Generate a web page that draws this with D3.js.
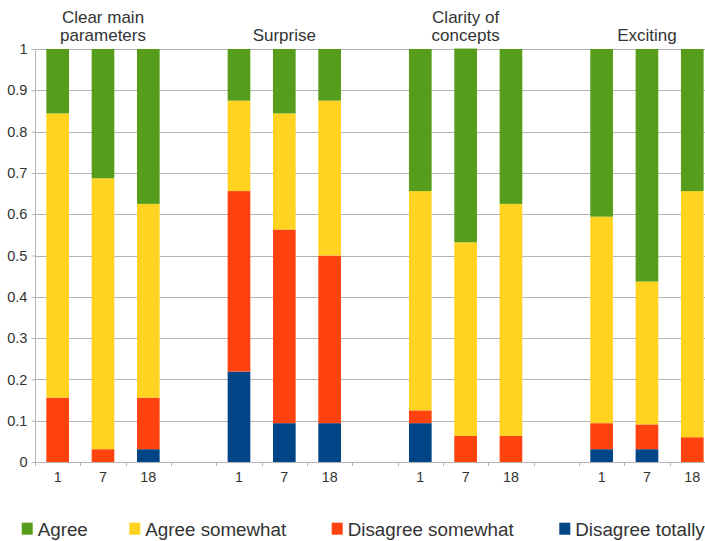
<!DOCTYPE html>
<html>
<head>
<meta charset="utf-8">
<script src="https://cdn.jsdelivr.net/npm/d3@7"></script>
<style>
  html, body { margin: 0; padding: 0; background: #fff; overflow: hidden; }
  svg { display: block; font-family: "Liberation Sans", Arial, sans-serif; }
</style>
</head>
<body>
<svg id="chart" width="705" height="541"></svg>
<script>
// Survey questions (one group of bars each) and their titles split into lines
const questions = ["Clear main parameters", "Surprise", "Clarity of concepts", "Exciting"];
const questionTitleLines = [["Clear main", "parameters"], ["Surprise"], ["Clarity of", "concepts"], ["Exciting"]];
// Measurement points within each question
const waves = ["1", "7", "18"];

// Answer shares per bar, question-major order (question × wave)
const disagreeTotally  = [0,     0,     0.031, 0.219, 0.094, 0.094, 0.094, 0,     0,     0.031, 0.031, 0];
const disagreeSomewhat = [0.156, 0.031, 0.125, 0.437, 0.469, 0.406, 0.031, 0.063, 0.063, 0.063, 0.060, 0.060];
const agreeSomewhat    = [0.688, 0.656, 0.469, 0.219, 0.281, 0.375, 0.531, 0.469, 0.562, 0.500, 0.346, 0.596];
const agree            = [0.156, 0.313, 0.375, 0.125, 0.156, 0.125, 0.344, 0.469, 0.375, 0.406, 0.563, 0.344];

// Series, bottom of stack first
const seriesKeys = ["Disagree totally", "Disagree somewhat", "Agree somewhat", "Agree"];
const seriesValues = [disagreeTotally, disagreeSomewhat, agreeSomewhat, agree];
const seriesColors = ["#004586", "#ff420e", "#ffd320", "#579d1c"];
// Legend order
const legendKeys = ["Agree", "Agree somewhat", "Disagree somewhat", "Disagree totally"];

const yTicks = [0, 0.1, 0.2, 0.3, 0.4, 0.5, 0.6, 0.7, 0.8, 0.9, 1];
const yTickLabels = ["0", "0.1", "0.2", "0.3", "0.4", "0.5", "0.6", "0.7", "0.8", "0.9", "1"];

// Build one row per bar, with an empty spacer slot between question groups
const slots = [];
const rows = [];
questions.forEach((q, qi) => {
  waves.forEach((w, wi) => {
    const idx = qi * waves.length + wi;
    const row = { slot: q + "|" + w, wave: w, question: q };
    seriesKeys.forEach((k, si) => { row[k] = seriesValues[si][idx]; });
    rows.push(row);
    slots.push(row.slot);
  });
  if (qi < questions.length - 1) slots.push("gap" + qi);
});

const svg = d3.select("#chart");
const plotLeft = 35, plotTop = 49, plotBottom = 462;
const slotStep = 45.33;

const x = d3.scaleBand()
  .domain(slots)
  .range([plotLeft, plotLeft + slotStep * slots.length])
  .paddingInner(0).paddingOuter(0);

const y = d3.scaleLinear().domain([0, 1]).range([plotBottom, plotTop]);

const gridColor = "#b3b3b3";
const textColor = "#333333";

// Horizontal grid lines
svg.append("g")
  .selectAll("line")
  .data(yTicks)
  .join("line")
  .attr("x1", plotLeft)
  .attr("x2", x.range()[1])
  .attr("y1", d => Math.round(y(d)) + 0.5)
  .attr("y2", d => Math.round(y(d)) + 0.5)
  .attr("stroke", gridColor)
  .attr("stroke-width", 1);

// Stacked bars
const stacked = d3.stack().keys(seriesKeys)(rows);
const barWidth = x.bandwidth() / 2;
svg.append("g")
  .selectAll("g")
  .data(stacked)
  .join("g")
  .attr("fill", (d, i) => seriesColors[i])
  .selectAll("rect")
  .data(d => d)
  .join("rect")
  .attr("x", d => x(d.data.slot) + (x.bandwidth() - barWidth) / 2)
  .attr("width", barWidth)
  .attr("y", d => y(d[1]))
  .attr("height", d => Math.max(0, y(d[0]) - y(d[1])));

// Y axis
const yAxis = svg.append("g")
  .attr("transform", `translate(${plotLeft + 0.5},0)`)
  .call(d3.axisLeft(y)
    .tickValues(yTicks)
    .tickFormat((d, i) => yTickLabels[i])
    .tickSizeInner(4)
    .tickSizeOuter(0)
    .tickPadding(4));
yAxis.select(".domain").attr("stroke", gridColor).attr("d", `M0,${plotTop}V${plotBottom + 4}`);
yAxis.selectAll(".tick line").attr("stroke", gridColor);
yAxis.selectAll(".tick text")
  .attr("fill", textColor)
  .style("font-size", "14.6px")
  .style("font-family", "'Liberation Sans', Arial, sans-serif");

// X axis baseline and slot-boundary tick marks
const xAxisG = svg.append("g");
xAxisG.append("line")
  .attr("x1", plotLeft).attr("x2", x.range()[1])
  .attr("y1", plotBottom + 0.5).attr("y2", plotBottom + 0.5)
  .attr("stroke", gridColor);
const boundaries = slots.map(s => x(s)).concat([x.range()[1]]);
xAxisG.selectAll("line.bound")
  .data(boundaries)
  .join("line")
  .attr("class", "bound")
  .attr("x1", d => Math.round(d) + 0.5).attr("x2", d => Math.round(d) + 0.5)
  .attr("y1", plotBottom).attr("y2", plotBottom + 4)
  .attr("stroke", gridColor);

// Wave labels under each bar
const xAxis = svg.append("g")
  .attr("transform", `translate(0,${plotBottom})`)
  .call(d3.axisBottom(x)
    .tickValues(rows.map(r => r.slot))
    .tickFormat(s => s.split("|")[1])
    .tickSize(0)
    .tickPadding(10));
xAxis.select(".domain").remove();
xAxis.selectAll(".tick text")
  .attr("fill", textColor)
  .style("font-size", "14.3px")
  .style("font-family", "'Liberation Sans', Arial, sans-serif");

// Question titles centred above each group
questions.forEach((q, qi) => {
  const first = x(q + "|" + waves[0]);
  const last = x(q + "|" + waves[waves.length - 1]) + x.bandwidth();
  const cx = (first + last) / 2;
  const lines = questionTitleLines[qi];
  const t = svg.append("text")
    .attr("x", cx)
    .attr("text-anchor", "middle")
    .attr("fill", textColor)
    .style("font-size", "17px");
  lines.forEach((ln, li) => {
    t.append("tspan")
      .attr("x", cx)
      .attr("y", 40.7 - (lines.length - 1 - li) * 18)
      .text(ln);
  });
});

// Legend
const legendX = [21.7, 129.3, 331.7, 559.3];
const legend = svg.append("g");
legendKeys.forEach((k, i) => {
  const color = seriesColors[seriesKeys.indexOf(k)];
  legend.append("rect")
    .attr("x", legendX[i]).attr("y", 522.7)
    .attr("width", 11).attr("height", 12)
    .attr("fill", color);
  legend.append("text")
    .attr("x", legendX[i] + 16)
    .attr("y", 536)
    .attr("fill", textColor)
    .style("font-size", "18.8px")
    .text(k);
});
</script>
</body>
</html>
